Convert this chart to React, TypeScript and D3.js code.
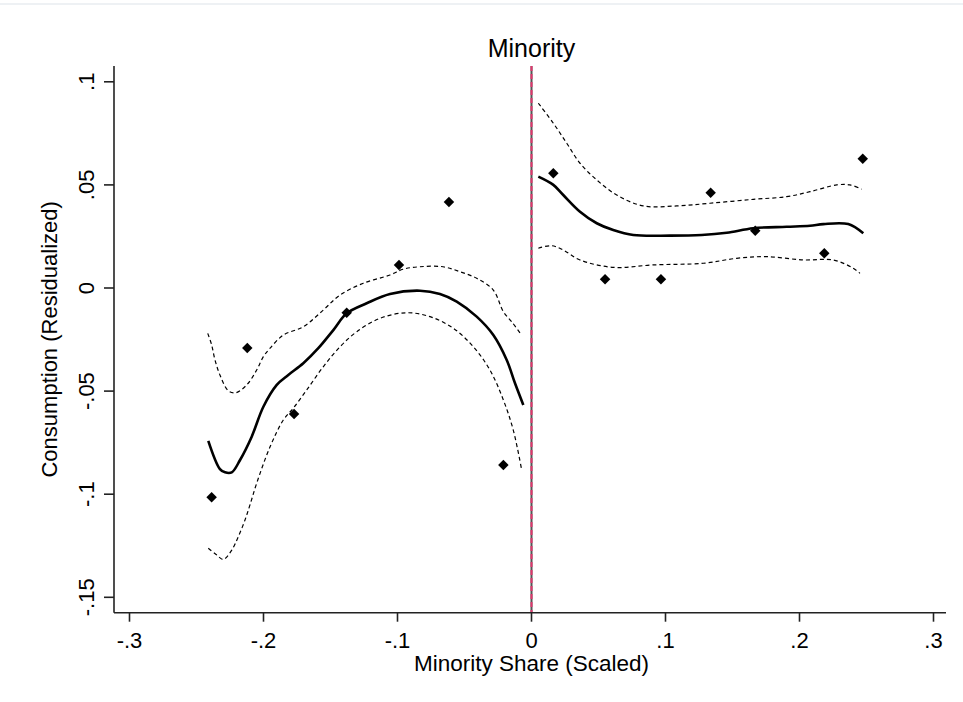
import React from "react";
import * as d3 from "d3";

const W = 963;
const H = 702;

// scatter (binned means)
const scatterX = [-0.2387, -0.2121, -0.1772, -0.1379, -0.0989, -0.0616, -0.021, 0.0163, 0.0549, 0.0966, 0.1337, 0.167, 0.2185, 0.2472];
const scatterY = [-0.1015, -0.0291, -0.0611, -0.012, 0.0112, 0.0417, -0.0858, 0.0556, 0.0042, 0.0042, 0.0462, 0.0278, 0.0168, 0.0627];

// left fit
const leftFitX = [-0.2412, -0.2325, -0.2287, -0.2237, -0.2175, -0.2088, -0.2001, -0.1901, -0.1815, -0.1703, -0.1591, -0.1479, -0.1379, -0.123, -0.1056, -0.0832, -0.0683, -0.0558, -0.0409, -0.0285, -0.0185, -0.0123, -0.0061];
const leftFitY = [-0.0741, -0.0878, -0.0894, -0.0894, -0.0834, -0.0721, -0.0576, -0.047, -0.0422, -0.0365, -0.0292, -0.0204, -0.0123, -0.0074, -0.0029, -0.0013, -0.0029, -0.0066, -0.0139, -0.0228, -0.0349, -0.0462, -0.0567];

const leftUpX = [-0.2416, -0.2387, -0.2362, -0.2325, -0.2263, -0.2207, -0.2125, -0.2051, -0.2001, -0.1951, -0.1852, -0.1703, -0.1554, -0.1429, -0.1255, -0.1056, -0.0959, -0.0832, -0.066, -0.0534, -0.0409, -0.0285, -0.021, -0.0146, -0.0086];
const leftUpY = [-0.022, -0.0276, -0.0349, -0.0422, -0.0498, -0.0508, -0.047, -0.0398, -0.0333, -0.0292, -0.0228, -0.0188, -0.0107, -0.0034, 0.0023, 0.0063, 0.0091, 0.0103, 0.0103, 0.0079, 0.0047, -0.001, -0.0115, -0.0165, -0.0218];

const leftLoX = [-0.2412, -0.2349, -0.23, -0.2237, -0.2188, -0.2138, -0.2101, -0.2051, -0.1951, -0.1852, -0.1778, -0.1678, -0.1554, -0.1429, -0.1304, -0.1131, -0.0931, -0.0757, -0.0584, -0.0434, -0.031, -0.021, -0.0136, -0.0073];
const leftLoY = [-0.1262, -0.1295, -0.1316, -0.1271, -0.1206, -0.1125, -0.1052, -0.0947, -0.077, -0.064, -0.0583, -0.0495, -0.0382, -0.0285, -0.0212, -0.0147, -0.012, -0.0139, -0.0195, -0.0285, -0.0398, -0.0543, -0.0689, -0.0883];

// right fit
const rightFitX = [0.0051, 0.0163, 0.0237, 0.0362, 0.0487, 0.061, 0.076, 0.1034, 0.127, 0.1457, 0.1655, 0.1904, 0.2078, 0.2178, 0.2364, 0.2476];
const rightFitY = [0.054, 0.05, 0.0451, 0.037, 0.0314, 0.0281, 0.0257, 0.0254, 0.0257, 0.0268, 0.029, 0.0297, 0.0302, 0.031, 0.031, 0.0265];

const rightUpX = [0.0051, 0.0163, 0.0263, 0.0362, 0.0487, 0.0636, 0.0834, 0.1084, 0.1332, 0.1655, 0.1904, 0.2078, 0.2278, 0.2377, 0.2464];
const rightUpY = [0.0896, 0.0799, 0.0702, 0.0605, 0.0524, 0.0451, 0.0398, 0.0398, 0.0411, 0.043, 0.0443, 0.0467, 0.05, 0.05, 0.0479];

const rightLoX = [0.0051, 0.0151, 0.0237, 0.0362, 0.061, 0.0909, 0.1282, 0.1531, 0.1755, 0.2028, 0.2252, 0.2401, 0.2451];
const rightLoY = [0.0193, 0.0205, 0.0184, 0.0136, 0.01, 0.0112, 0.012, 0.0144, 0.0152, 0.0136, 0.0136, 0.0096, 0.0071];

const xTicks = [-0.3, -0.2, -0.1, 0, 0.1, 0.2, 0.3];
const xTickLabels = ["-.3", "-.2", "-.1", "0", ".1", ".2", ".3"];
const yTicks = [-0.15, -0.1, -0.05, 0, 0.05, 0.1];
const yTickLabels = ["-.15", "-.1", "-.05", "0", ".05", ".1"];

const titleText = "Minority";
const xTitle = "Minority Share (Scaled)";
const yTitle = "Consumption (Residualized)";

const FONT = "Arial, 'Liberation Sans', sans-serif";

export default function App() {
  const x = d3.scaleLinear().domain([-0.3, 0.3]).range([129.5, 933.5]);
  const y = d3.scaleLinear().domain([-0.15, 0.1]).range([597.3, 81.8]);
  const axLeft = 114;
  const axRight = 946;
  const axTop = 66;
  const axBottom = 612.7;

  const line = d3
    .line<[number, number]>()
    .x((d) => x(d[0]))
    .y((d) => y(d[1]))
    .curve(d3.curveCatmullRom.alpha(0.5));
  const zip = (a: number[], b: number[]) => a.map((v, i) => [v, b[i]] as [number, number]);

  const diamond = d3.symbol().type(d3.symbolDiamond2).size(70)();

  return (
    <svg width={W} height={H} style={{ position: "absolute", left: 0, top: 0, background: "#fff" }} fontFamily={FONT}>
      <rect x={0} y={3} width={W} height={2} fill="#eef1f4" />
      {/* title */}
      <text x={x(0)} y={57} textAnchor="middle" fontSize={25} fill="#000">{titleText}</text>

      {/* zero line */}
      <line x1={x(0)} x2={x(0)} y1={axTop} y2={axBottom} stroke="#555" strokeWidth={2} />
      <line x1={x(0)} x2={x(0)} y1={axTop} y2={axBottom} stroke="#e0366c" strokeWidth={2} strokeDasharray="5,3" />

      {/* CI */}
      {[zip(leftUpX, leftUpY), zip(leftLoX, leftLoY), zip(rightUpX, rightUpY), zip(rightLoX, rightLoY)].map((d, i) => (
        <path key={"ci" + i} d={line(d) || ""} fill="none" stroke="#000" strokeWidth={1.2} strokeDasharray="4,3" />
      ))}
      {/* fits */}
      {[zip(leftFitX, leftFitY), zip(rightFitX, rightFitY)].map((d, i) => (
        <path key={"fit" + i} d={line(d) || ""} fill="none" stroke="#000" strokeWidth={2.6} strokeLinejoin="round" />
      ))}
      {/* scatter */}
      {scatterX.map((v, i) => (
        <path key={"p" + i} d={diamond || ""} transform={`translate(${x(v)},${y(scatterY[i])})`} fill="#000" />
      ))}

      {/* axes */}
      <line x1={axLeft} x2={axLeft} y1={axTop} y2={axBottom} stroke="#222" strokeWidth={1.6} />
      <line x1={axLeft} x2={axRight} y1={axBottom} y2={axBottom} stroke="#222" strokeWidth={1.6} />
      {yTicks.map((t, i) => (
        <g key={"yt" + i}>
          <line x1={axLeft - 10} x2={axLeft} y1={y(t)} y2={y(t)} stroke="#222" strokeWidth={1.6} />
          <text transform={`translate(${94},${y(t)}) rotate(-90)`} textAnchor="middle" fontSize={22} fill="#000">
            {yTickLabels[i]}
          </text>
        </g>
      ))}
      {xTicks.map((t, i) => (
        <g key={"xt" + i}>
          <line x1={x(t)} x2={x(t)} y1={axBottom} y2={axBottom + 9} stroke="#222" strokeWidth={1.6} />
          <text x={x(t)} y={648} textAnchor="middle" fontSize={22} fill="#000">
            {xTickLabels[i]}
          </text>
        </g>
      ))}
      <text x={x(0)} y={671} textAnchor="middle" fontSize={22.5} fill="#000">{xTitle}</text>
      <text transform={`translate(57,${(axTop + axBottom) / 2}) rotate(-90)`} textAnchor="middle" fontSize={22} fill="#000">
        {yTitle}
      </text>
    </svg>
  );
}
